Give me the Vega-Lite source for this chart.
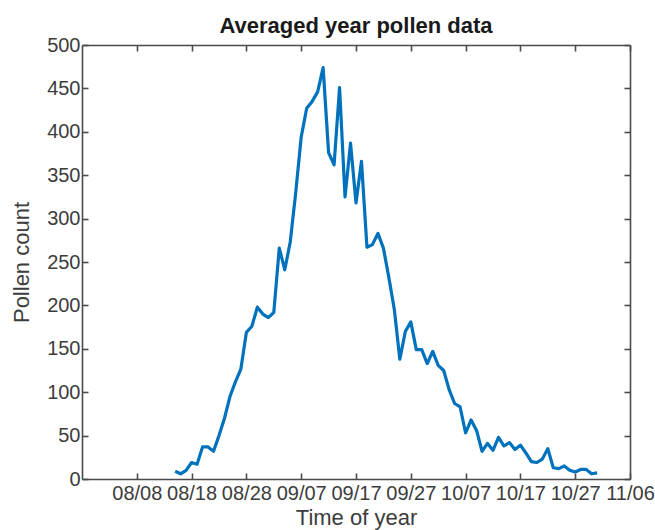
{
  "$schema": "https://vega.github.io/schema/vega-lite/v6.json",
  "width": 548,
  "height": 434,
  "autosize": {"type": "none"},
  "padding": {"left": 82, "top": 45, "right": 25, "bottom": 51},
  "background": "white",
  "title": {
    "text": "Averaged year pollen data",
    "font": "Liberation Sans",
    "fontSize": 22,
    "fontWeight": "bold",
    "color": "#1a1a1a",
    "anchor": "middle",
    "baseline": "alphabetic",
    "offset": -20
  },
  "config": {
    "view": {"stroke": null},
    "axis": {
      "labelFont": "Liberation Sans",
      "titleFont": "Liberation Sans",
      "labelFontSize": 20,
      "titleFontSize": 22,
      "titleFontWeight": "normal",
      "labelColor": "#3c3c3c",
      "titleColor": "#3c3c3c",
      "domainColor": "#4a4a4a",
      "tickColor": "#4a4a4a",
      "domainWidth": 1.6,
      "tickWidth": 1.6,
      "tickSize": -6,
      "grid": false
    }
  },
  "data": {
    "values": [
      {"date": "2015-08-15", "count": 9},
      {"date": "2015-08-16", "count": 6},
      {"date": "2015-08-17", "count": 10},
      {"date": "2015-08-18", "count": 19},
      {"date": "2015-08-19", "count": 17},
      {"date": "2015-08-20", "count": 37},
      {"date": "2015-08-21", "count": 37},
      {"date": "2015-08-22", "count": 32},
      {"date": "2015-08-23", "count": 50},
      {"date": "2015-08-24", "count": 70},
      {"date": "2015-08-25", "count": 95},
      {"date": "2015-08-26", "count": 112},
      {"date": "2015-08-27", "count": 127},
      {"date": "2015-08-28", "count": 169},
      {"date": "2015-08-29", "count": 176},
      {"date": "2015-08-30", "count": 198},
      {"date": "2015-08-31", "count": 190},
      {"date": "2015-09-01", "count": 186},
      {"date": "2015-09-02", "count": 192},
      {"date": "2015-09-03", "count": 266},
      {"date": "2015-09-04", "count": 241},
      {"date": "2015-09-05", "count": 273},
      {"date": "2015-09-06", "count": 330},
      {"date": "2015-09-07", "count": 394},
      {"date": "2015-09-08", "count": 427},
      {"date": "2015-09-09", "count": 435},
      {"date": "2015-09-10", "count": 446},
      {"date": "2015-09-11", "count": 474},
      {"date": "2015-09-12", "count": 376},
      {"date": "2015-09-13", "count": 362},
      {"date": "2015-09-14", "count": 451},
      {"date": "2015-09-15", "count": 325},
      {"date": "2015-09-16", "count": 387},
      {"date": "2015-09-17", "count": 318},
      {"date": "2015-09-18", "count": 366},
      {"date": "2015-09-19", "count": 267},
      {"date": "2015-09-20", "count": 270},
      {"date": "2015-09-21", "count": 283},
      {"date": "2015-09-22", "count": 266},
      {"date": "2015-09-23", "count": 232},
      {"date": "2015-09-24", "count": 195},
      {"date": "2015-09-25", "count": 138},
      {"date": "2015-09-26", "count": 170},
      {"date": "2015-09-27", "count": 181},
      {"date": "2015-09-28", "count": 149},
      {"date": "2015-09-29", "count": 149},
      {"date": "2015-09-30", "count": 133},
      {"date": "2015-10-01", "count": 147},
      {"date": "2015-10-02", "count": 131},
      {"date": "2015-10-03", "count": 125},
      {"date": "2015-10-04", "count": 103},
      {"date": "2015-10-05", "count": 87},
      {"date": "2015-10-06", "count": 83},
      {"date": "2015-10-07", "count": 53},
      {"date": "2015-10-08", "count": 68},
      {"date": "2015-10-09", "count": 56},
      {"date": "2015-10-10", "count": 32},
      {"date": "2015-10-11", "count": 41},
      {"date": "2015-10-12", "count": 33},
      {"date": "2015-10-13", "count": 48},
      {"date": "2015-10-14", "count": 38},
      {"date": "2015-10-15", "count": 42},
      {"date": "2015-10-16", "count": 34},
      {"date": "2015-10-17", "count": 39},
      {"date": "2015-10-18", "count": 30},
      {"date": "2015-10-19", "count": 20},
      {"date": "2015-10-20", "count": 19},
      {"date": "2015-10-21", "count": 23},
      {"date": "2015-10-22", "count": 35},
      {"date": "2015-10-23", "count": 13},
      {"date": "2015-10-24", "count": 12},
      {"date": "2015-10-25", "count": 15},
      {"date": "2015-10-26", "count": 10},
      {"date": "2015-10-27", "count": 8},
      {"date": "2015-10-28", "count": 11},
      {"date": "2015-10-29", "count": 11},
      {"date": "2015-10-30", "count": 6},
      {"date": "2015-10-31", "count": 7}
    ]
  },
  "layer": [
    {
      "mark": {"type": "line", "color": "#0072BD", "strokeWidth": 3.2, "strokeJoin": "round"},
      "encoding": {
        "x": {
          "field": "date",
          "type": "temporal",
          "scale": {
            "type": "utc",
            "nice": false,
            "domain": [
              {"year": 2015, "month": 7, "date": 29, "utc": true},
              {"year": 2015, "month": 11, "date": 6, "utc": true}
            ]
          },
          "axis": {
            "orient": "bottom",
            "format": "%m/%d",
            "labelPadding": 10,
            "labelFlush": false,
            "labelOverlap": false,
            "titlePadding": 4,
            "values": [
              {"year": 2015, "month": 8, "date": 8, "utc": true},
              {"year": 2015, "month": 8, "date": 18, "utc": true},
              {"year": 2015, "month": 8, "date": 28, "utc": true},
              {"year": 2015, "month": 9, "date": 7, "utc": true},
              {"year": 2015, "month": 9, "date": 17, "utc": true},
              {"year": 2015, "month": 9, "date": 27, "utc": true},
              {"year": 2015, "month": 10, "date": 7, "utc": true},
              {"year": 2015, "month": 10, "date": 17, "utc": true},
              {"year": 2015, "month": 10, "date": 27, "utc": true},
              {"year": 2015, "month": 11, "date": 6, "utc": true}
            ]
          },
          "title": "Time of year"
        },
        "y": {
          "field": "count",
          "type": "quantitative",
          "scale": {"domain": [0, 500], "nice": false},
          "axis": {
            "orient": "left",
            "values": [0, 50, 100, 150, 200, 250, 300, 350, 400, 450, 500],
            "labelPadding": 8,
            "labelOverlap": false,
            "labelFlush": false,
            "titlePadding": 13
          },
          "title": "Pollen count"
        }
      }
    },
    {
      "mark": {"type": "line", "opacity": 0},
      "encoding": {
        "x": {
          "field": "date",
          "type": "temporal",
          "axis": {
            "orient": "top",
            "labels": false,
            "title": null,
            "values": [
              {"year": 2015, "month": 8, "date": 8, "utc": true},
              {"year": 2015, "month": 8, "date": 18, "utc": true},
              {"year": 2015, "month": 8, "date": 28, "utc": true},
              {"year": 2015, "month": 9, "date": 7, "utc": true},
              {"year": 2015, "month": 9, "date": 17, "utc": true},
              {"year": 2015, "month": 9, "date": 27, "utc": true},
              {"year": 2015, "month": 10, "date": 7, "utc": true},
              {"year": 2015, "month": 10, "date": 17, "utc": true},
              {"year": 2015, "month": 10, "date": 27, "utc": true},
              {"year": 2015, "month": 11, "date": 6, "utc": true}
            ]
          }
        },
        "y": {
          "field": "count",
          "type": "quantitative",
          "axis": {
            "orient": "right",
            "labels": false,
            "title": null,
            "values": [0, 50, 100, 150, 200, 250, 300, 350, 400, 450, 500]
          }
        }
      }
    }
  ],
  "resolve": {"axis": {"x": "independent", "y": "independent"}}
}
